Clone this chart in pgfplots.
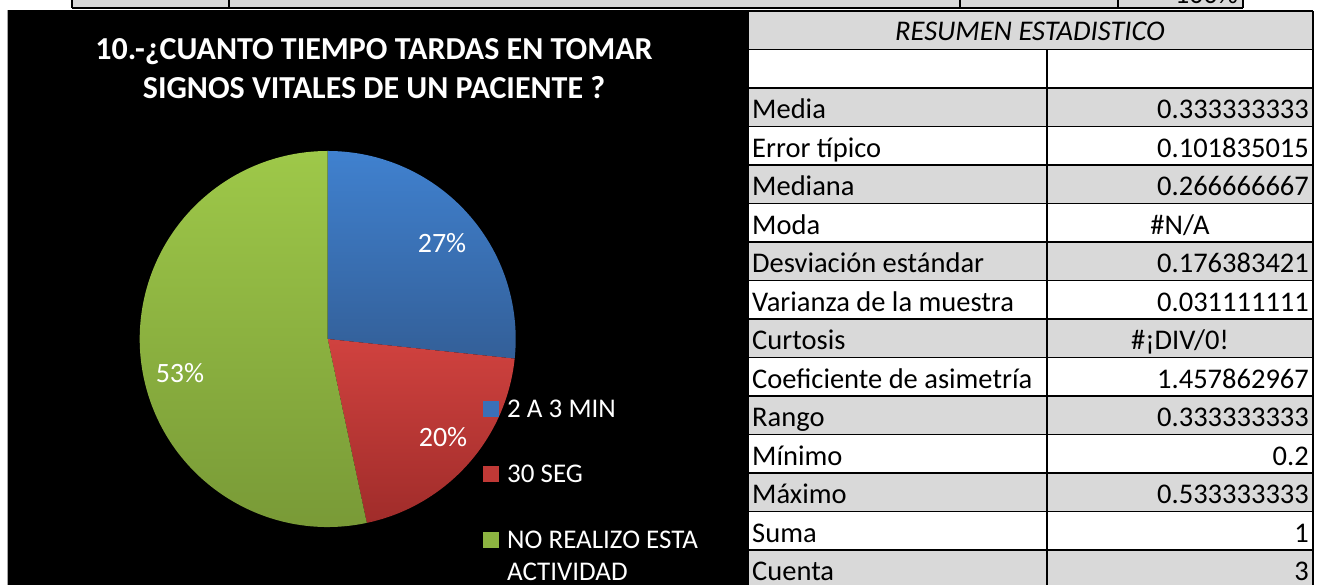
\documentclass[border=0pt]{standalone}
\usepackage{pgfplots}
\pgfplotsset{compat=1.18}
\usepackage{pgfplotstable}
\usepackage{fontspec}
\setmainfont{Carlito}
\newcommand\fs[1]{\fontsize{#1bp}{#1bp}\selectfont}
\definecolor{cellgray}{HTML}{D9D9D9}
\definecolor{blueT}{HTML}{4081CF}
\definecolor{blueB}{HTML}{335F98}
\definecolor{redT}{HTML}{D0423F}
\definecolor{redB}{HTML}{A02C2A}
\definecolor{greenT}{HTML}{9EC849}
\definecolor{greenB}{HTML}{779836}
\definecolor{blueL}{HTML}{3A70B8}
\definecolor{redL}{HTML}{C03936}
\definecolor{greenL}{HTML}{8DB441}

\pgfplotstableread{
idx value
0 26.6667
1 20.0000
2 53.3333
}\piedata

\newcommand\trow[3]{% index, label, value (right aligned)
  \node[anchor=base west, inner sep=0pt] at (752,{543-38.5*#1}) {#2};
  \node[anchor=base east, inner sep=0pt] at (1309,{543-38.5*#1}) {#3};}
\newcommand\trowc[3]{% index, label, value (centred)
  \node[anchor=base west, inner sep=0pt] at (752,{543-38.5*#1}) {#2};
  \node[anchor=base, inner sep=0pt] at (1180,{543-38.5*#1}) {#3};}

\begin{document}
\begin{tikzpicture}[x=1bp,y=1bp]
\useasboundingbox (0,0) rectangle (1320,585);
\fill[white] (0,0) rectangle (1320,585);
% top strip of the spreadsheet
\fill[cellgray] (72,577) rectangle (1243,586);
\foreach \x in {72,229,960,1118,1243} \draw[line width=1.2bp] (\x,577) -- (\x,586);
\draw[line width=1.5bp] (72,577) -- (1243,577);
\node[anchor=base east, inner sep=0pt, font=\fs{28}] at (1238,581) {100\%};
% chart area
\fill[black] (7,0) rectangle (748,575);
\draw[black!35, line width=1bp] (7,0) -- (7,575);
% title
\node[anchor=base, text=white, font=\fs{32}\bfseries, inner sep=0pt] at (374,525) {10.-¿CUANTO TIEMPO TARDAS EN TOMAR};
\node[anchor=base, text=white, font=\fs{32}\bfseries, inner sep=0pt] at (374,486) {SIGNOS VITALES DE UN PACIENTE ?};
% pie angles from data
\pgfplotstablegetelem{0}{value}\of\piedata \pgfmathsetmacro\va{\pgfplotsretval}
\pgfplotstablegetelem{1}{value}\of\piedata \pgfmathsetmacro\vb{\pgfplotsretval}
\pgfplotstablegetelem{2}{value}\of\piedata \pgfmathsetmacro\vc{\pgfplotsretval}
\pgfmathsetmacro\aA{90}
\pgfmathsetmacro\aB{90-3.6*\va}
\pgfmathsetmacro\aC{\aB-3.6*\vb}
\pgfmathsetmacro\aD{\aC-3.6*\vc}
\begin{axis}[at={(327.7bp,246bp)}, anchor=center, scale only axis,
  width=376bp, height=376bp, xmin=-1, xmax=1, ymin=-1, ymax=1,
  hide axis, clip=false]
\shade[top color=blueT, bottom color=blueB] (axis cs:0,0) -- (axis cs:{cos(\aA)},{sin(\aA)}) arc[start angle=\aA, end angle=\aB, radius=188bp] -- cycle;
\shade[top color=redT, bottom color=redB] (axis cs:0,0) -- (axis cs:{cos(\aB)},{sin(\aB)}) arc[start angle=\aB, end angle=\aC, radius=188bp] -- cycle;
\shade[top color=greenT, bottom color=greenB] (axis cs:0,0) -- (axis cs:{cos(\aC)},{sin(\aC)}) arc[start angle=\aC, end angle=\aD, radius=188bp] -- cycle;
\end{axis}
% data labels
\node[text=white, font=\fs{28}] at (442,342) {27\%};
\node[text=white, font=\fs{28}] at (443,148) {20\%};
\node[text=white, font=\fs{28}] at (180,212) {53\%};
% legend
\fill[blueL] (483,168) rectangle (499,184);
\fill[redL] (483,103) rectangle (499,119);
\fill[greenL] (483,37) rectangle (499,53);
\begin{scope}[every node/.style={anchor=base west, inner sep=0pt, text=white, font=\fs{27}}]
\node at (507,167.5) {2 A 3 MIN};
\node at (507,102.5) {30 SEG};
\node at (507,36.5) {NO REALIZO ESTA};
\node at (507,4.5) {ACTIVIDAD};
\end{scope}
% table
\foreach \i in {0,...,14}{
  \pgfmathsetmacro\yt{574-38.5*\i}
  \pgfmathsetmacro\yb{574-38.5*(\i+1)}
  \pgfmathtruncatemacro\odd{mod(\i,2)}
  \ifnum\odd=0 \fill[cellgray] (748,\yt) rectangle (1313,\yb); \fi
}
\foreach \i in {0,...,14}{
  \pgfmathsetmacro\yt{574-38.5*\i}
  \draw[line width=1.5bp] (748,\yt) -- (1313,\yt);
}
\draw[line width=1.5bp] (1047,535.5) -- (1047,-5);
\draw[line width=1.5bp] (1313,574) -- (1313,-5);
\draw[line width=1.5bp] (748,574) -- (748,-5);
\begin{scope}[font=\fs{28.5}]
\node[anchor=base, inner sep=0pt, font=\fs{28.5}\itshape] at (1030,544) {RESUMEN ESTADISTICO};
\trow{2}{Media}{0.333333333}
\trow{3}{Error típico}{0.101835015}
\trow{4}{Mediana}{0.266666667}
\trowc{5}{Moda}{\#N/A}
\trow{6}{Desviación estándar}{0.176383421}
\trow{7}{Varianza de la muestra}{0.031111111}
\trowc{8}{Curtosis}{\#¡DIV/0!}
\trow{9}{Coeficiente de asimetría}{1.457862967}
\trow{10}{Rango}{0.333333333}
\trow{11}{Mínimo}{0.2}
\trow{12}{Máximo}{0.533333333}
\trow{13}{Suma}{1}
\trow{14}{Cuenta}{3}
\end{scope}
\end{tikzpicture}
\end{document}
